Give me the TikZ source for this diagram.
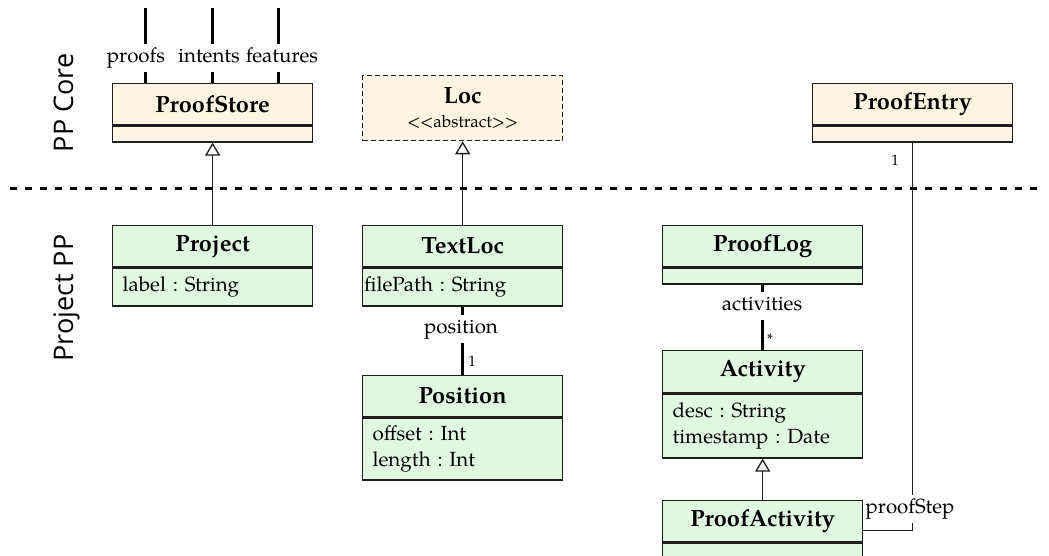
\documentclass[tikz,border=0pt]{standalone}
\usepackage{fontspec}
\setmainfont{TeX Gyre Pagella}
\newfontfamily\lanefont{Open Sans}
\usetikzlibrary{arrows.meta,calc}
\definecolor{corefill}{RGB}{255,245,226}
\definecolor{ppfill}{RGB}{225,248,225}
\definecolor{edgecol}{RGB}{30,30,30}
\newcommand{\attrfont}{\fontsize{20.5}{26}\selectfont}
\newcommand{\namefont}{\fontsize{23.5}{28}\selectfont\bfseries}
\newcommand{\multfont}{\fontsize{15}{18}\selectfont}
\newcommand{\stereofont}{\fontsize{17}{20}\selectfont}
\frenchspacing
\begin{document}
\begin{tikzpicture}[x=1pt,y=-1pt,
  box/.style={draw=edgecol, line width=1.3pt, minimum width=200pt, inner sep=0pt},
  hdr/.style={box, minimum height=41pt, font=\namefont, anchor=north west},
  attr/.style={box, anchor=north, text width=180pt, inner xsep=10pt, align=left, font=\attrfont},
  core/.style={fill=corefill},
  pp/.style={fill=ppfill},
  rel/.style={draw=edgecol, line width=1.3pt},
  inherit/.style={rel, -{Triangle[open, length=13pt, width=15pt]}},
  assoc/.style={draw=black, line width=3pt},
  lbl/.style={fill=white, inner xsep=1pt, inner ysep=4.5pt, text height=14pt, text depth=5pt, font=\attrfont, anchor=base},
  mult/.style={font=\multfont, inner sep=0pt},
  lane/.style={font=\lanefont\fontsize{27}{32}\selectfont, rotate=90, anchor=base, inner sep=0pt}
]
\useasboundingbox (0,0) rectangle (1049,556);
\fill[white] (0,0) rectangle (1049,556);

% lanes
\node[lane] (laneCore) at (73,103) {PP Core};
\node[lane] (lanePP) at (73,298) {Project PP};

% separator
\coordinate (sepL) at (10,189);
\coordinate (sepR) at (1042,189);
\draw[line width=3pt, dash pattern=on 6.5pt off 8.5pt] (sepL) -- (sepR);

% PP Core classes
\node[hdr, core] (psH) at (112,83) {ProofStore};
\node[attr, core, minimum height=16pt] (psA) at (psH.south) {};

\node[box, core, dashed, dash pattern=on 5pt off 3pt, minimum height=65pt, anchor=north west] (loc) at (362,75) {};
\node[font=\namefont, anchor=base, inner sep=0pt] (locN) at ([yshift=-29pt]loc.north) {Loc};
\node[font=\stereofont, anchor=base, inner sep=0pt] (locS) at ([yshift=-53pt]loc.north) {<\kern0pt<abstract>\kern0pt>};

\node[hdr, core] (peH) at (812,83) {ProofEntry};
\node[attr, core, minimum height=16pt] (peA) at (peH.south) {};

% Project PP classes
\node[hdr, pp] (prH) at (112,225) {Project};
\node[attr, pp, minimum height=38pt] (prA) at (prH.south) {label : String};

\node[hdr, pp] (tlH) at (362,225) {TextLoc};
\node[attr, pp, minimum height=38pt, inner xsep=1.5pt, text width=197pt] (tlA) at (tlH.south) {filePath : String};

\node[hdr, pp] (poH) at (362,375) {Position};
\node[attr, pp, minimum height=62pt] (poA) at (poH.south) {offset : Int\\length : Int};

\node[hdr, pp] (plH) at (662,225) {ProofLog};
\node[attr, pp, minimum height=16pt] (plA) at (plH.south) {};

\node[hdr, pp, minimum height=42pt] (acH) at (662,350) {Activity};
\node[attr, pp, minimum height=64pt] (acA) at (acH.south) {desc : String\\timestamp : Date};

\node[hdr, pp] (paH) at (662,500) {ProofActivity};
\node[attr, pp, minimum height=16pt] (paA) at (paH.south) {};

% connectors
\draw[inherit] (prH.north) -- (psA.south);
\draw[inherit] (tlH.north) -- (loc.south);
\draw[inherit] (paH.north) -- (acA.south);
\draw[assoc] (tlA.south) -- (poH.north);
\draw[assoc] (plA.south) -- (acH.north);
\draw[rel] (peA.south) |- ($(paH.south east)+(0,-12)$);

\coordinate (stP) at (145,8);
\coordinate (stI) at (212,8);
\coordinate (stF) at (278,8);
\draw[assoc] (stP) -- (stP |- psH.north);
\draw[assoc] (stI) -- (stI |- psH.north);
\draw[assoc] (stF) -- (stF |- psH.north);

% labels
\node[lbl] (lProofs) at (136,63) {proofs};
\node[lbl] (lIntents) at (209,63) {intents};
\node[lbl] (lFeatures) at (282,63) {features};
\node[lbl] (lPos) at (461,333) {position};
\node[lbl] (lAct) at (762,310) {activities};
\node[lbl] (lStep) at (910,513) {proofStep};
\node[mult] (mPos) at (472,361) {1};
\node[mult] (mAct) at (770,339) {*};
\node[mult] (mPE) at (895,160) {1};
\end{tikzpicture}
\end{document}
